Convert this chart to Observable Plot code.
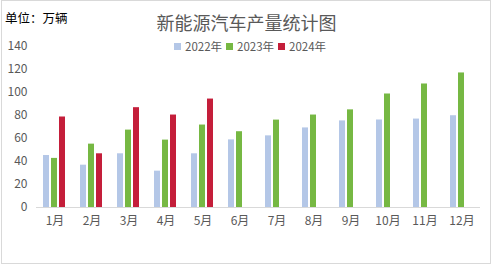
<!DOCTYPE html>
<html>
<head>
<meta charset="utf-8">
<script src="https://cdn.jsdelivr.net/npm/d3@7"></script>
<script src="https://cdn.jsdelivr.net/npm/@observablehq/plot@0.6"></script>
<style>
  html, body { margin: 0; padding: 0; background: #fff; }
  #wrap { position: relative; width: 493px; height: 266px; font-family: "Noto Sans CJK SC", "Noto Sans", sans-serif; }
  #frame { position: absolute; left: 1px; top: 0px; width: 488px; height: 262px; border: 1px solid #d9d9d9; pointer-events: none; }
  #unit { position: absolute; left: 5px; top: 8px; font-size: 12.5px; color: #000; }
  #title { position: absolute; left: 0; width: 493px; top: 9px; text-align: center; font-size: 18px; color: #595959; }
  #title span { position: relative; left: 0px; }
  #legend { position: absolute; top: 38px; left: 174px; font-size: 11.5px; color: #595959; display: flex; align-items: center; white-space: nowrap; }
  #legend .sw { display: inline-block; width: 7px; height: 7px; margin-right: 4px; }
  #legend .it { display: flex; align-items: center; margin-right: 4px; }
  svg { position: absolute; left: 0; top: 0; }
</style>
</head>
<body>
<div id="wrap">
  <div id="chart"></div>
  <div id="unit">单位：万辆</div>
  <div id="title">新能源汽车产量统计图</div>
  <div id="legend"></div>
  <div id="frame"></div>
</div>
<script>
const months = ["1月","2月","3月","4月","5月","6月","7月","8月","9月","10月","11月","12月"];
const series = ["2022年","2023年","2024年"];
const colors = ["#b4c7e7","#76b843","#c41e3a"];
const v2022 = [45.2, 36.8, 46.7, 31.6, 46.7, 58.8, 62.3, 69.2, 75.3, 76.1, 76.9, 79.8];
const v2023 = [42.7, 55.1, 67.3, 58.6, 71.7, 65.9, 76.0, 80.4, 84.9, 98.7, 107.4, 117.0];
const v2024 = [78.7, 46.7, 86.8, 80.4, 94.3];
const yTicks = [0, 20, 40, 60, 80, 100, 120, 140];

const data = [];
[v2022, v2023, v2024].forEach((arr, si) => {
  arr.forEach((v, mi) => data.push({month: months[mi], series: series[si], value: v}));
});

const chart = Plot.plot({
  width: 493,
  height: 266,
  marginLeft: 36,
  marginRight: 13,
  marginTop: 46,
  marginBottom: 59,
  style: {fontFamily: '"Noto Sans CJK SC", "Noto Sans", sans-serif', fontSize: "12px", color: "#595959", background: "transparent"},
  fx: {domain: months, padding: 0, label: null, axis: "bottom", tickSize: 0, tickPadding: 9},
  x: {domain: series, paddingInner: 0.2, paddingOuter: 0.9, axis: null},
  y: {domain: [0, 140], ticks: yTicks, label: null, tickSize: 0, tickPadding: 9, tickFormat: d => String(d)},
  color: {domain: series, range: colors},
  marks: [
    Plot.barY(data, {fx: "month", x: "series", y: "value", fill: "series"}),
    Plot.ruleY([0], {stroke: "#d9d9d9", strokeWidth: 1})
  ]
});
document.getElementById("chart").appendChild(chart);

const legend = document.getElementById("legend");
series.forEach((s, i) => {
  const it = document.createElement("span");
  it.className = "it";
  const sw = document.createElement("span");
  sw.className = "sw";
  sw.style.background = colors[i];
  it.appendChild(sw);
  it.appendChild(document.createTextNode(s));
  legend.appendChild(it);
});
</script>
</body>
</html>
